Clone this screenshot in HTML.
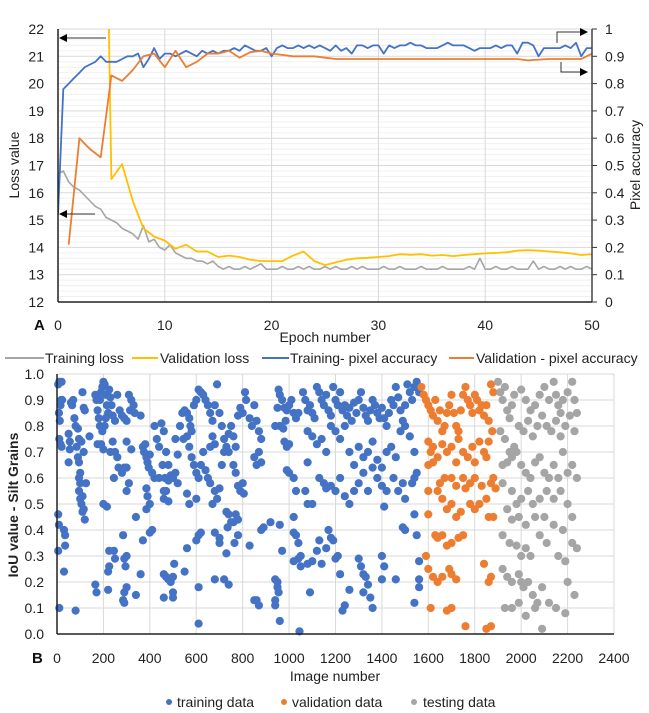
<!DOCTYPE html>
<html><head><meta charset="utf-8"><style>
body{margin:0;background:#fff}
svg{display:block;font-family:"Liberation Sans",sans-serif}
</style></head><body>
<svg id="c" width="649" height="713" viewBox="0 0 649 713">
<defs>
<clipPath id="clipA"><rect x="58" y="29" width="534" height="273"/></clipPath>
<marker id="ah" markerWidth="8" markerHeight="8" refX="7" refY="4" orient="auto"><path d="M0,0 L8,4 L0,8z" fill="#000"/></marker>
</defs>
<g id="chartA"></g>
<g id="chartB"></g>
</svg>
<script>
// ---------- Chart A data ----------
const epochStep = 0.5;
const trainLoss = [16.7,16.8,16.4,16.2,16.1,15.9,15.7,15.5,15.4,15.1,15.0,14.9,14.7,14.6,14.5,14.3,14.8,14.2,14.3,14.0,13.9,14.1,13.8,13.7,13.6,13.6,13.5,13.5,13.4,13.5,13.3,13.2,13.3,13.2,13.2,13.3,13.2,13.3,13.4,13.2,13.2,13.2,13.3,13.2,13.2,13.3,13.2,13.3,13.2,13.2,13.3,13.2,13.3,13.2,13.2,13.3,13.2,13.3,13.2,13.2,13.2,13.3,13.2,13.2,13.3,13.2,13.2,13.2,13.3,13.2,13.2,13.2,13.3,13.2,13.2,13.2,13.2,13.3,13.2,13.6,13.2,13.2,13.3,13.2,13.2,13.3,13.2,13.2,13.2,13.5,13.2,13.3,13.2,13.2,13.3,13.2,13.3,13.2,13.2,13.3,13.2];
const trainAcc = [0.32,0.78,0.8,0.82,0.84,0.86,0.87,0.88,0.9,0.88,0.88,0.88,0.89,0.9,0.9,0.91,0.86,0.89,0.93,0.89,0.91,0.91,0.9,0.91,0.92,0.91,0.9,0.92,0.91,0.92,0.91,0.92,0.92,0.93,0.92,0.94,0.93,0.92,0.92,0.93,0.9,0.93,0.94,0.93,0.93,0.94,0.93,0.94,0.93,0.94,0.93,0.92,0.94,0.92,0.93,0.91,0.94,0.94,0.93,0.94,0.94,0.91,0.94,0.93,0.94,0.94,0.95,0.94,0.94,0.93,0.93,0.93,0.94,0.95,0.94,0.94,0.94,0.93,0.92,0.93,0.93,0.93,0.94,0.93,0.94,0.94,0.91,0.95,0.95,0.94,0.9,0.93,0.93,0.93,0.93,0.94,0.93,0.95,0.9,0.93,0.93];
const valEpochs = [1,2,3,4,5,6,7,8,9,10,11,12,13,14,15,16,17,18,19,20,21,22,23,24,25,26,27,28,29,30,31,32,33,34,35,36,37,38,39,40,41,42,43,44,45,46,47,48,49,50];
const valLoss = [40,40,40,40,16.5,17.05,15.7,14.7,14.4,14.25,13.95,14.1,13.85,13.85,13.65,13.7,13.65,13.55,13.5,13.5,13.5,13.7,13.85,13.5,13.35,13.45,13.55,13.6,13.62,13.65,13.68,13.75,13.73,13.75,13.7,13.72,13.68,13.72,13.75,13.78,13.8,13.82,13.88,13.9,13.88,13.85,13.82,13.78,13.72,13.75];
const valAcc = [0.21,0.6,0.56,0.53,0.83,0.81,0.85,0.9,0.91,0.86,0.92,0.86,0.88,0.91,0.91,0.92,0.895,0.915,0.92,0.91,0.905,0.9,0.9,0.9,0.895,0.89,0.89,0.89,0.89,0.89,0.89,0.89,0.89,0.89,0.89,0.89,0.89,0.89,0.89,0.89,0.89,0.89,0.89,0.885,0.888,0.89,0.89,0.89,0.89,0.91];
const lossTicks = [12,13,14,15,16,17,18,19,20,21,22];
const accTicks = ["0","0.1","0.2","0.3","0.4","0.5","0.6","0.7","0.8","0.9","1"];
const epochTicks = [0,10,20,30,40,50];

// ---------- Chart B data ----------
const trainPts = [[5,0.96],[10,0.97],[20,0.97],[8,0.85],[12,0.82],[15,0.88],[18,0.9],[22,0.9],[10,0.75],[15,0.73],[20,0.72],[5,0.46],[8,0.42],[5,0.32],[10,0.1],[30,0.4],[35,0.38],[35,0.34],[30,0.24],[50,0.77],[55,0.74],[50,0.66],[55,0.71],[60,0.89],[65,0.88],[70,0.9],[75,0.83],[80,0.8],[85,0.72],[90,0.79],[95,0.75],[90,0.68],[95,0.66],[100,0.62],[95,0.6],[100,0.58],[95,0.55],[100,0.52],[105,0.5],[110,0.47],[115,0.48],[110,0.53],[120,0.44],[125,0.58],[115,0.7],[105,0.74],[110,0.93],[115,0.87],[120,0.86],[140,0.76],[80,0.09],
[165,0.92],[170,0.9],[175,0.86],[180,0.83],[185,0.9],[190,0.93],[195,0.95],[200,0.97],[205,0.96],[210,0.92],[215,0.88],[220,0.85],[225,0.94],[230,0.91],[235,0.88],[240,0.84],[250,0.82],[260,0.92],[270,0.86],[280,0.84],[290,0.83],[300,0.82],[310,0.92],[320,0.9],[330,0.88],[335,0.85],[315,0.86],[185,0.8],[195,0.78],[205,0.8],[210,0.83],[175,0.73],[190,0.73],[200,0.71],[230,0.7],[240,0.74],[250,0.7],[260,0.68],[245,0.6],[265,0.64],[280,0.62],[290,0.64],[300,0.64],[310,0.58],[300,0.55],[300,0.74],[320,0.71],[200,0.5],[215,0.49],[340,0.45],[165,0.19],[170,0.16],[220,0.17],[220,0.24],[225,0.26],[225,0.32],[245,0.32],[250,0.29],[285,0.38],[290,0.29],[300,0.3],[295,0.26],[300,0.18],[290,0.16],[285,0.13],[290,0.12],[340,0.15],[360,0.23],
[360,0.84],[370,0.72],[375,0.7],[380,0.73],[385,0.68],[390,0.66],[395,0.64],[400,0.69],[410,0.62],[420,0.8],[430,0.75],[440,0.72],[450,0.81],[460,0.78],[470,0.7],[480,0.65],[490,0.61],[500,0.6],[510,0.62],[520,0.58],[530,0.8],[540,0.85],[545,0.75],[420,0.6],[440,0.6],[455,0.65],[465,0.6],[385,0.56],[390,0.53],[400,0.5],[385,0.48],[400,0.39],[410,0.4],[370,0.36],[460,0.55],[470,0.55],[460,0.52],[480,0.51],[460,0.23],[470,0.22],[480,0.21],[490,0.2],[500,0.22],[505,0.27],[460,0.14],[500,0.14],[500,0.16],[480,0.59],[550,0.24],[560,0.33],[520,0.69],[510,0.75],
[550,0.86],[560,0.85],[570,0.83],[575,0.8],[580,0.78],[590,0.88],[600,0.9],[610,0.94],[620,0.93],[630,0.92],[640,0.9],[650,0.88],[660,0.85],[670,0.82],[680,0.88],[690,0.96],[700,0.85],[710,0.8],[720,0.75],[730,0.72],[740,0.77],[750,0.8],[760,0.76],[770,0.72],[780,0.84],[790,0.87],[800,0.85],[810,0.93],[815,0.9],[560,0.76],[570,0.72],[580,0.68],[590,0.65],[600,0.62],[610,0.6],[620,0.65],[630,0.7],[640,0.63],[650,0.6],[660,0.58],[670,0.5],[680,0.55],[690,0.52],[700,0.56],[710,0.65],[720,0.7],[740,0.7],[760,0.65],[770,0.62],[780,0.57],[790,0.55],[800,0.58],[805,0.54],[660,0.72],[670,0.76],[680,0.73],[560,0.54],[570,0.5],[600,0.52],[610,0.38],[620,0.39],[600,0.36],[680,0.39],[700,0.37],[700,0.35],[730,0.47],[740,0.46],[750,0.43],[760,0.43],[770,0.46],[780,0.44],[780,0.38],[765,0.35],[730,0.31],[720,0.21],[740,0.19],[680,0.21],[610,0.18],[610,0.04],[735,0.41],
[830,0.83],[840,0.8],[850,0.88],[860,0.82],[870,0.78],[880,0.75],[850,0.68],[860,0.65],[870,0.7],[880,0.66],[830,0.34],[880,0.4],[890,0.41],[920,0.43],[940,0.8],[950,0.87],[960,0.92],[955,0.94],[970,0.9],[980,0.87],[985,0.82],[990,0.86],[1000,0.88],[1010,0.9],[1020,0.85],[1030,0.83],[1040,0.85],[960,0.8],[975,0.79],[990,0.72],[1000,0.73],[980,0.74],[990,0.63],[1000,0.62],[1020,0.6],[1030,0.55],[1020,0.45],[1020,0.39],[1030,0.38],[1040,0.35],[1040,0.29],[1050,0.26],[1020,0.28],[1050,0.3],[960,0.42],[940,0.21],[950,0.2],[950,0.18],[955,0.16],[940,0.13],[940,0.11],[970,0.32],[960,0.05],[1045,0.01],[850,0.13],[860,0.13],[870,0.11],
[1060,0.93],[1070,0.9],[1080,0.86],[1090,0.88],[1100,0.85],[1110,0.83],[1120,0.95],[1130,0.93],[1140,0.9],[1150,0.88],[1160,0.92],[1170,0.86],[1180,0.84],[1190,0.95],[1200,0.9],[1210,0.88],[1220,0.93],[1230,0.86],[1240,0.88],[1250,0.84],[1260,0.87],[1270,0.82],[1280,0.89],[1290,0.85],[1300,0.9],[1310,0.93],[1320,0.87],[1330,0.84],[1340,0.82],[1350,0.86],[1360,0.9],[1370,0.88],[1380,0.85],[1390,0.83],[1400,0.87],[1410,0.83],[1420,0.8],[1430,0.85],[1440,0.9],[1450,0.88],[1460,0.95],[1470,0.91],[1480,0.86],[1490,0.82],[1500,0.88],[1510,0.96],[1520,0.93],[1530,0.9],[1540,0.95],[1550,0.97],[1560,0.93],[1080,0.78],[1100,0.76],[1120,0.73],[1140,0.75],[1160,0.7],[1180,0.8],[1200,0.78],[1220,0.75],[1240,0.8],[1260,0.7],[1280,0.65],[1300,0.72],[1320,0.68],[1340,0.7],[1360,0.74],[1380,0.67],[1400,0.64],[1420,0.7],[1440,0.72],[1460,0.68],[1480,0.78],[1500,0.8],[1520,0.76],[1540,0.7],[1080,0.66],[1070,0.55],[1080,0.5],[1100,0.5],[1130,0.6],[1150,0.58],[1160,0.56],[1180,0.57],[1200,0.55],[1220,0.6],[1240,0.53],[1260,0.5],[1280,0.55],[1300,0.58],[1320,0.62],[1340,0.55],[1360,0.64],[1380,0.6],[1400,0.57],[1410,0.49],[1420,0.55],[1450,0.6],[1470,0.55],[1490,0.58],[1500,0.52],[1530,0.58],[1540,0.6],[1550,0.62],[1100,0.28],[1080,0.27],[1090,0.16],[1130,0.36],[1120,0.32],[1140,0.27],[1160,0.33],[1170,0.4],[1180,0.37],[1190,0.36],[1200,0.29],[1210,0.3],[1220,0.23],[1240,0.11],[1300,0.29],[1310,0.26],[1320,0.23],[1330,0.22],[1340,0.19],[1350,0.14],[1360,0.1],[1320,0.16],[1400,0.3],[1410,0.26],[1400,0.21],[1460,0.21],[1490,0.41],[1500,0.4],[1540,0.46],[1550,0.38],[1560,0.28],[1560,0.21],[1560,0.18],[1540,0.12],[1260,0.17],[1230,0.09]];
const valPts = [[1570,0.95],[1580,0.92],[1590,0.9],[1600,0.88],[1610,0.86],[1620,0.84],[1630,0.9],[1640,0.82],[1650,0.86],[1660,0.78],[1670,0.8],[1680,0.85],[1690,0.88],[1700,0.92],[1710,0.85],[1720,0.8],[1730,0.78],[1740,0.86],[1750,0.92],[1760,0.95],[1770,0.9],[1780,0.88],[1790,0.85],[1800,0.92],[1810,0.9],[1820,0.86],[1830,0.88],[1840,0.84],[1850,0.88],[1860,0.82],[1870,0.96],[1880,0.93],[1600,0.74],[1610,0.7],[1620,0.72],[1640,0.68],[1660,0.73],[1680,0.7],[1700,0.72],[1720,0.66],[1730,0.75],[1750,0.7],[1770,0.68],[1790,0.72],[1800,0.66],[1820,0.74],[1840,0.7],[1850,0.68],[1860,0.74],[1875,0.78],[1600,0.65],[1620,0.66],[1650,0.58],[1670,0.6],[1700,0.6],[1720,0.57],[1750,0.6],[1780,0.58],[1800,0.6],[1830,0.57],[1850,0.52],[1870,0.58],[1880,0.6],[1890,0.56],[1600,0.55],[1640,0.55],[1660,0.52],[1680,0.48],[1700,0.5],[1720,0.45],[1740,0.47],[1760,0.56],[1780,0.5],[1800,0.48],[1820,0.5],[1860,0.45],[1880,0.45],[1600,0.46],[1630,0.38],[1640,0.37],[1660,0.38],[1700,0.35],[1730,0.37],[1750,0.38],[1680,0.34],[1590,0.3],[1600,0.25],[1620,0.22],[1640,0.2],[1660,0.22],[1690,0.25],[1700,0.23],[1720,0.21],[1610,0.1],[1680,0.09],[1700,0.1],[1760,0.03],[1850,0.02],[1870,0.03],[1840,0.27],[1860,0.2],[1870,0.22]];
const testPts = [[1900,0.97],[1910,0.93],[1920,0.9],[1930,0.95],[1940,0.86],[1950,0.83],[1960,0.88],[1970,0.92],[2000,0.94],[2020,0.9],[2040,0.86],[2060,0.88],[2080,0.92],[2100,0.95],[2120,0.9],[2140,0.97],[2150,0.92],[2160,0.88],[2170,0.85],[2180,0.9],[2200,0.93],[2220,0.97],[2230,0.9],[2240,0.85],[1910,0.78],[1930,0.75],[1950,0.7],[1970,0.72],[1990,0.8],[2010,0.78],[2030,0.82],[2050,0.76],[2070,0.8],[2090,0.84],[2110,0.8],[2130,0.78],[2150,0.82],[2170,0.76],[2190,0.8],[2210,0.84],[2230,0.78],[1920,0.65],[1940,0.66],[1960,0.68],[1980,0.7],[2000,0.65],[2020,0.62],[2040,0.6],[2060,0.66],[2080,0.68],[2100,0.62],[2120,0.6],[2140,0.65],[2160,0.6],[2180,0.7],[2200,0.62],[2220,0.65],[2240,0.6],[1920,0.58],[1960,0.55],[1980,0.5],[2000,0.52],[2030,0.55],[2050,0.5],[2080,0.52],[2110,0.55],[2140,0.52],[2170,0.55],[2200,0.5],[2220,0.45],[1940,0.48],[1960,0.44],[1990,0.45],[2020,0.42],[2060,0.45],[2100,0.45],[2140,0.42],[2180,0.4],[1920,0.38],[1950,0.35],[1980,0.34],[2000,0.3],[2020,0.33],[2040,0.3],[2080,0.38],[2110,0.35],[2160,0.3],[2190,0.28],[2220,0.35],[2240,0.33],[1920,0.25],[1940,0.22],[1960,0.2],[1990,0.23],[2010,0.18],[2030,0.2],[2050,0.15],[2070,0.12],[2090,0.18],[2120,0.12],[2150,0.1],[2200,0.2],[1930,0.1],[1960,0.1],[1990,0.12],[2020,0.07],[2060,0.1],[2090,0.02],[2230,0.15],[2190,0.08],[2000,0.2]];
const iouTicks = ["0.0","0.1","0.2","0.3","0.4","0.5","0.6","0.7","0.8","0.9","1.0"];
const imgTicks = [0,200,400,600,800,1000,1200,1400,1600,1800,2000,2200,2400];

const NS = "http://www.w3.org/2000/svg";
function mk(tag, attrs, parent, txt){
  const e = document.createElementNS(NS, tag);
  for (const k in attrs) e.setAttribute(k, attrs[k]);
  if (txt !== undefined) e.textContent = txt;
  parent.appendChild(e); return e;
}

// ---------- Chart A ----------
const A = document.getElementById('chartA');
const ax = e => 58 + e / 50 * 534;
const ayL = v => 302 - (v - 12) / 10 * 273;
const ayR = v => 302 - v * 273;
for (let k = 0; k <= 50; k++) {
  const y = 302 - k * 273 / 50;
  const g = mk('line', {x1:58, x2:592, y1:y, y2:y, stroke: k % 5 === 0 ? '#d9d9d9' : '#f0f0f0', 'stroke-width':1}, A);
  
  
}
epochTicks.forEach(t => {
  if (t > 0 && t < 50) {
    const g = mk('line', {x1:ax(t), x2:ax(t), y1:29, y2:302, stroke:'#d9d9d9'}, A);
    
    
  }
  const l = mk('text', {x:ax(t), y:330, 'font-size':14, 'text-anchor':'middle', fill:'#222'}, A, String(t));
  
  
});
lossTicks.forEach(t => {
  const l = mk('text', {x:44, y:ayL(t) + 5, 'font-size':14, 'text-anchor':'end', fill:'#222'}, A, String(t));
  
  
});
accTicks.forEach((t, i) => {
  const y = ayR(i / 10);
  mk('line', {x1:592, x2:597, y1:y, y2:y, stroke:'#333'}, A);
  const l = mk('text', {x:605, y:y + 5, 'font-size':14, fill:'#222'}, A, t);
  
  
});
function poly(xs, ys, color, name, w) {
  const p = mk('polyline', {points: xs.map((x, i) => x.toFixed(1) + ',' + ys[i].toFixed(1)).join(' '), fill:'none', stroke:color, 'stroke-width':w, 'stroke-linejoin':'round', 'clip-path':'url(#clipA)'}, A);
  
  
}
poly(trainLoss.map((v, i) => ax(i * epochStep)), trainLoss.map(ayL), '#a5a5a5', 'training-loss-line', 1.6);
poly(valEpochs.map(ax), valLoss.map(ayL), '#ffc000', 'validation-loss-line', 1.8);
poly(trainAcc.map((v, i) => ax(i * epochStep)), trainAcc.map(ayR), '#4472c4', 'training-accuracy-line', 1.8);
poly(valEpochs.map(ax), valAcc.map(ayR), '#ed7d31', 'validation-accuracy-line', 1.8);
mk('line', {x1:58, x2:58, y1:29, y2:302, stroke:'#222', 'stroke-width':1.5}, A);
mk('line', {x1:592, x2:592, y1:29, y2:302, stroke:'#444', 'stroke-width':1.5}, A);
mk('line', {x1:58, x2:592, y1:302, y2:302, stroke:'#222', 'stroke-width':1.5}, A);
mk('line', {x1:106, x2:60, y1:38, y2:38, stroke:'#333', 'marker-end':'url(#ah)'}, A);
mk('line', {x1:95, x2:60, y1:214, y2:214, stroke:'#333', 'marker-end':'url(#ah)'}, A);
mk('polyline', {points:'557,43 557,32 587,32', fill:'none', stroke:'#333', 'marker-end':'url(#ah)'}, A);
mk('polyline', {points:'561,62 561,72 587,72', fill:'none', stroke:'#333', 'marker-end':'url(#ah)'}, A);
let t;
t = mk('text', {x:0, y:0, 'font-size':14, 'text-anchor':'middle', transform:'translate(19,165) rotate(-90)', fill:'#222'}, A, 'Loss value');
 
t = mk('text', {x:0, y:0, 'font-size':14, 'text-anchor':'middle', transform:'translate(640,165) rotate(-90)', fill:'#222'}, A, 'Pixel accuracy');
 
t = mk('text', {x:325, y:342, 'font-size':14, 'text-anchor':'middle', fill:'#222'}, A, 'Epoch number');
 
t = mk('text', {x:34, y:330, 'font-size':15, 'font-weight':'bold', fill:'#111'}, A, 'A');
 
const legItems = [['#a5a5a5', 5, 44, 45, 'Training loss'], ['#ffc000', 132, 158, 160, 'Validation loss'], ['#4472c4', 262, 289, 290, 'Training- pixel accuracy'], ['#ed7d31', 449, 474, 476, 'Validation - pixel accuracy']];
legItems.forEach(it => {
  mk('line', {x1:it[1], x2:it[2], y1:358, y2:358, stroke:it[0], 'stroke-width':2}, A);
  const l = mk('text', {x:it[3], y:363, 'font-size':14, fill:'#222'}, A, it[4]);
  
  
});

// ---------- Chart B ----------
const B = document.getElementById('chartB');
const bx = v => 57 + v / 2400 * 557;
const by = v => 634 - v * 260;
iouTicks.forEach((s, i) => {
  const y = by(i / 10);
  const g = mk('line', {x1:57, x2:614, y1:y, y2:y, stroke:'#d9d9d9'}, B);
  
  
  const l = mk('text', {x:44, y:y + 5, 'font-size':14, 'text-anchor':'end', fill:'#222'}, B, s);
  
  
});
imgTicks.forEach(v => {
  const g = mk('line', {x1:bx(v), x2:bx(v), y1:374, y2:634, stroke:'#d9d9d9'}, B);
  
  
  const l = mk('text', {x:bx(v), y:663, 'font-size':14, 'text-anchor':'middle', fill:'#222'}, B, String(v));
  
  
});
function dots(pts, color, name) {
  pts.forEach(p => {
    const c = mk('circle', {cx:bx(p[0]).toFixed(1), cy:by(p[1]).toFixed(1), r:4.1, fill:color}, B);
    
    
  });
}
dots(trainPts, '#4472c4', 'training-point');
dots(valPts, '#ed7d31', 'validation-point');
dots(testPts, '#a5a5a5', 'testing-point');
mk('line', {x1:57, x2:57, y1:374, y2:634, stroke:'#222', 'stroke-width':1.5}, B);
mk('line', {x1:57, x2:614, y1:634, y2:634, stroke:'#222', 'stroke-width':1.5}, B);
t = mk('text', {x:0, y:0, 'font-size':14, 'font-weight':'bold', 'text-anchor':'middle', transform:'translate(18,505) rotate(-90)', fill:'#222'}, B, 'IoU value - Silt Grains');
 
t = mk('text', {x:335, y:681, 'font-size':14, 'text-anchor':'middle', fill:'#222'}, B, 'Image number');
 
t = mk('text', {x:32, y:663, 'font-size':15, 'font-weight':'bold', fill:'#111'}, B, 'B');
 
const legB = [['#4472c4', 169, 177, 'training data'], ['#ed7d31', 284, 292, 'validation data'], ['#a5a5a5', 414, 423, 'testing data']];
legB.forEach(it => {
  mk('circle', {cx:it[1], cy:702, r:3, fill:it[0]}, B);
  const l = mk('text', {x:it[2], y:707, 'font-size':14, fill:'#222'}, B, it[3]);
  
  
});
</script>
</body></html>
